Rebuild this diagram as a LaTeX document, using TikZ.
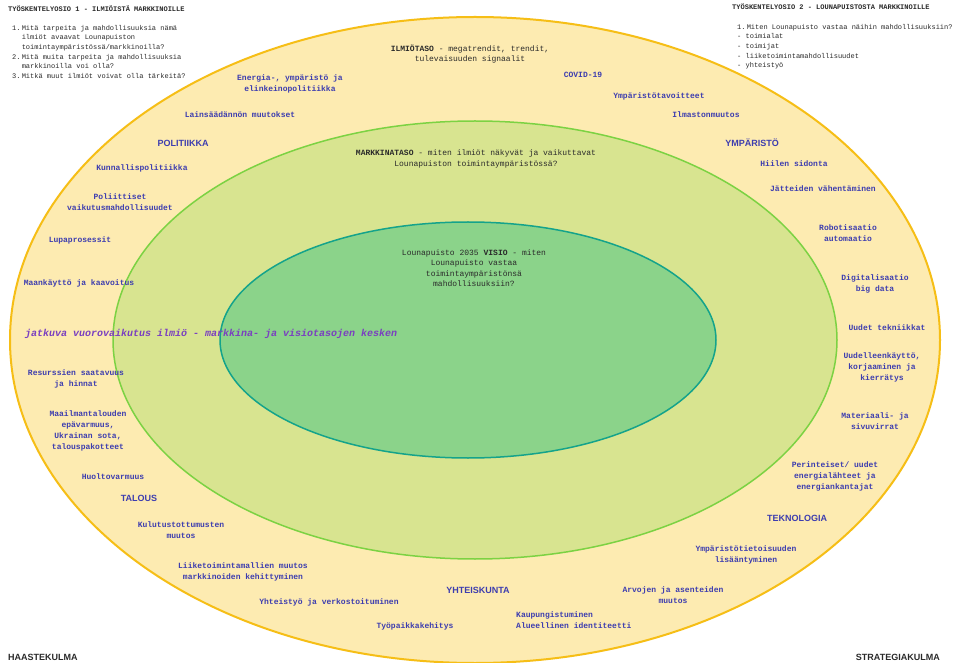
\documentclass[tikz,border=0pt]{standalone}
\usepackage{fontspec}
\newfontfamily\monof{Liberation Mono}
\newfontfamily\sansf{Liberation Sans}
\definecolor{outerfill}{HTML}{FDEBB1}
\definecolor{outerline}{HTML}{F6BE16}
\definecolor{midfill}{HTML}{D8E490}
\definecolor{midline}{HTML}{7CD243}
\definecolor{innerfill}{HTML}{8BD38A}
\definecolor{innerline}{HTML}{14A38B}
\definecolor{lblue}{HTML}{3D3DAF}
\definecolor{dark}{HTML}{2A2A2A}
\definecolor{purp}{HTML}{7A3FC0}
\tikzset{
  lbl/.style={text=lblue,font=\monof\bfseries\fontsize{8}{11}\selectfont,align=center,inner sep=0pt},
  cat/.style={text=lblue,font=\sansf\bfseries\fontsize{9}{11}\selectfont,inner sep=0pt},
  lvl/.style={text=dark,font=\monof\fontsize{8}{10.5}\selectfont,align=center,inner sep=0pt},
  qtxt/.style={text=dark,font=\monof\fontsize{7}{9.6}\selectfont,align=left,inner sep=0pt,anchor=north west},
  corner/.style={text=dark,font=\sansf\bfseries\fontsize{9}{11}\selectfont,inner sep=0pt},
}
\begin{document}
\begin{tikzpicture}[x=1pt,y=-1pt]
\useasboundingbox (0,0) rectangle (954,663);
\fill[white] (0,0) rectangle (954,663);
% ellipses
\draw[line width=2pt,draw=outerline,fill=outerfill] (475,340) ellipse [x radius=465pt,y radius=323pt];
\draw[line width=1.5pt,draw=midline,fill=midfill] (475,340) ellipse [x radius=362pt,y radius=219pt];
\draw[line width=1.5pt,draw=innerline,fill=innerfill] (468,340) ellipse [x radius=248pt,y radius=118pt];

% top-left questions
\node[qtxt,font=\monof\bfseries\fontsize{7}{9.6}\selectfont] (h1) at (8,6) {TYÖSKENTELYOSIO 1 - ILMIÖISTÄ MARKKINOILLE};
\node[qtxt] (q1) at (12,25) {1.\,Mitä tarpeita ja mahdollisuuksia nämä\\
\phantom{1.\,}ilmiöt avaavat Lounapuiston\\
\phantom{1.\,}toimintaympäristössä/markkinoilla?\\
2.\,Mitä muita tarpeita ja mahdollisuuksia\\
\phantom{2.\,}markkinoilla voi olla?\\
3.\,Mitkä muut ilmiöt voivat olla tärkeitä?};

% top-right questions
\node[qtxt,font=\monof\bfseries\fontsize{7}{9.6}\selectfont] (h2) at (732,4) {TYÖSKENTELYOSIO 2 - LOUNAPUISTOSTA MARKKINOILLE};
\node[qtxt] (q2) at (737,24) {1.\,Miten Lounapuisto vastaa näihin mahdollisuuksiin?\\
- toimialat\\
- toimijat\\
- liiketoimintamahdollisuudet\\
- yhteistyö};

% level texts
\node[lvl] (ilmio) at (470,54) {{\bfseries ILMIÖTASO} - megatrendit, trendit,\\ tulevaisuuden signaalit};
\node[lvl] (markkina) at (476,159) {{\bfseries MARKKINATASO} - miten ilmiöt näkyvät ja vaikuttavat\\ Lounapuiston toimintaympäristössä?};
\node[lvl] (visio) at (474,268) {Lounapuisto 2035 {\bfseries VISIO} - miten\\ Lounapuisto vastaa\\ toimintaympäristönsä\\ mahdollisuuksiin?};

% interaction text
\node[text=purp,font=\monof\bfseries\itshape\fontsize{10}{12}\selectfont,anchor=west,inner sep=0pt] (jatkuva) at (25,334) {jatkuva vuorovaikutus ilmiö - markkina- ja visiotasojen kesken};

% categories
\node[cat] (pol) at (183,143) {POLITIIKKA};
\node[cat] (ymp) at (752,143) {YMPÄRISTÖ};
\node[cat] (tal) at (139,498) {TALOUS};
\node[cat] (tek) at (797,518) {TEKNOLOGIA};
\node[cat] (yht) at (478,590) {YHTEISKUNTA};

% politics
\node[lbl] (energia) at (290,83.5) {Energia-, ympäristö ja\\ elinkeinopolitiikka};
\node[lbl] (lains) at (240,115) {Lainsäädännön muutokset};
\node[lbl] (kunn) at (142,168) {Kunnallispolitiikka};
\node[lbl] (poliit) at (120,202.5) {Poliittiset\\ vaikutusmahdollisuudet};
\node[lbl] (lupa) at (80,240) {Lupaprosessit};
\node[lbl] (maank) at (79,283) {Maankäyttö ja kaavoitus};
% economy
\node[lbl] (resurs) at (76,378.5) {Resurssien saatavuus\\ ja hinnat};
\node[lbl] (maailm) at (88,430.5) {Maailmantalouden\\ epävarmuus,\\ Ukrainan sota,\\ talouspakotteet};
\node[lbl] (huolto) at (113,477) {Huoltovarmuus};
\node[lbl] (kulutus) at (181,530.5) {Kulutustottumusten\\ muutos};
% society
\node[lbl] (liiketoim) at (243,571.5) {Liiketoimintamallien muutos\\ markkinoiden kehittyminen};
\node[lbl] (yhteistyo) at (329,602) {Yhteistyö ja verkostoituminen};
\node[lbl] (tyopaikka) at (415,626) {Työpaikkakehitys};
\node[lbl,align=left,anchor=west] (kaupunki) at (516,620.5) {Kaupungistuminen\\ Alueellinen identiteetti};
\node[lbl] (arvot) at (673,595.5) {Arvojen ja asenteiden\\ muutos};
\node[lbl] (ymptiet) at (746,555) {Ympäristötietoisuuden\\ lisääntyminen};
% technology
\node[lbl] (perint) at (835,476) {Perinteiset/ uudet\\ energialähteet ja\\ energiankantajat};
\node[lbl] (materiaali) at (875,421.5) {Materiaali- ja\\ sivuvirrat};
\node[lbl] (uudelleen) at (882,367) {Uudelleenkäyttö,\\ korjaaminen ja\\ kierrätys};
\node[lbl] (uudet) at (887,328) {Uudet tekniikkat};
\node[lbl] (digi) at (875,283.5) {Digitalisaatio\\ big data};
\node[lbl] (robo) at (848,233) {Robotisaatio\\ automaatio};
% environment
\node[lbl] (jatteet) at (823,189) {Jätteiden vähentäminen};
\node[lbl] (hiili) at (794,164) {Hiilen sidonta};
\node[lbl] (ilmasto) at (706,115) {Ilmastonmuutos};
\node[lbl] (ymptav) at (659,96) {Ympäristötavoitteet};
\node[lbl] (covid) at (583,75) {COVID-19};

% corners
\node[corner,anchor=west] (haaste) at (8,657) {HAASTEKULMA};
\node[corner,anchor=east] (strat) at (940,657) {STRATEGIAKULMA};
\end{tikzpicture}
\end{document}
